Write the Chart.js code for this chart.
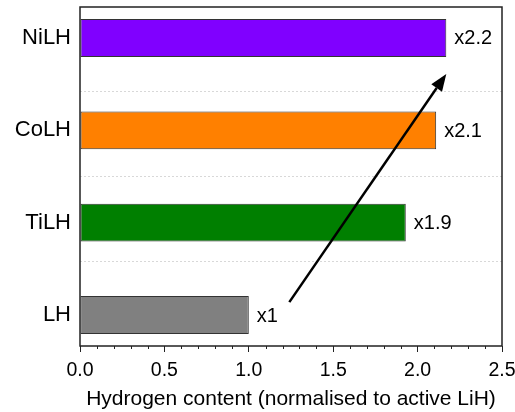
<!DOCTYPE html>
<html>
<head>
<meta charset="utf-8">
<script src="https://cdn.jsdelivr.net/npm/chart.js@4/dist/chart.umd.min.js"></script>
<style>
  html, body { margin: 0; padding: 0; background: #fff; }
  #wrap { width: 515px; height: 412px; }
</style>
</head>
<body>
<div id="wrap"><canvas id="chart"></canvas></div>
<script>
const categories = ["LH", "TiLH", "CoLH", "NiLH"];
const hydrogenContent = [1.0, 1.93, 2.11, 2.17];
const ratioLabels = ["x1", "x1.9", "x2.1", "x2.2"];
const barColors = ["#808080", "#007f00", "#ff8000", "#8000ff"];
const xTicks = [0, 0.5, 1.0, 1.5, 2.0, 2.5];
const arrowFrom = { x: 1.24, y: 0.14 };
const arrowTo = { x: 2.17, y: 2.61 };

const font = "'Liberation Sans', Arial, sans-serif";

// Chart.js adds room for overhanging labels; the reference plot box is fixed
const noPad = (scale) => {
  scale.paddingLeft = 0;
  scale.paddingRight = 0;
  scale.paddingTop = 0;
  scale.paddingBottom = 0;
};

const extras = {
  id: "extras",
  afterDatasetsDraw(chart) {
    const ctx = chart.ctx;
    const xs = chart.scales.x;
    const ys = chart.scales.y;
    const area = chart.chartArea;
    ctx.save();

    // value labels next to bars
    ctx.fillStyle = "#000";
    ctx.font = "20px " + font;
    ctx.textBaseline = "middle";
    ctx.textAlign = "left";
    hydrogenContent.forEach((v, i) => {
      ctx.fillText(ratioLabels[i], xs.getPixelForValue(v) + 8, ys.getPixelForValue(i) + 1);
    });

    // arrow
    const x0 = xs.getPixelForValue(arrowFrom.x), y0 = ys.getPixelForValue(arrowFrom.y);
    const x1 = xs.getPixelForValue(arrowTo.x), y1 = ys.getPixelForValue(arrowTo.y);
    const ang = Math.atan2(y1 - y0, x1 - x0);
    const head = 17, hw = 6.5;
    const bx = x1 - head * Math.cos(ang), by = y1 - head * Math.sin(ang);
    ctx.strokeStyle = "#000";
    ctx.lineWidth = 2.5;
    ctx.beginPath();
    ctx.moveTo(x0, y0);
    ctx.lineTo(bx, by);
    ctx.stroke();
    ctx.beginPath();
    ctx.moveTo(x1, y1);
    ctx.lineTo(bx + hw * Math.sin(ang), by - hw * Math.cos(ang));
    ctx.lineTo(bx - hw * Math.sin(ang), by + hw * Math.cos(ang));
    ctx.closePath();
    ctx.fillStyle = "#000";
    ctx.fill();

    // frame
    ctx.strokeStyle = "#222";
    ctx.lineWidth = 1.5;
    ctx.strokeRect(area.left, area.top, area.right - area.left, area.bottom - area.top);

    // minor ticks
    ctx.lineWidth = 1;
    for (let k = 1; k < 25; k++) {
      if (k % 5 === 0) continue;
      const px = Math.round(xs.getPixelForValue(k / 10)) + 0.5;
      ctx.beginPath();
      ctx.moveTo(px, area.bottom);
      ctx.lineTo(px, area.bottom + 3);
      ctx.stroke();
    }
    ctx.restore();
  }
};

const ctx = document.getElementById("chart").getContext("2d");
new Chart(ctx, {
  type: "bar",
  data: {
    datasets: [
      {
        data: hydrogenContent.map((v, i) => ({ x: v, y: i })),
        backgroundColor: barColors,
        borderColor: "#333",
        borderWidth: 1,
        borderSkipped: false,
        barPercentage: 0.41,
        categoryPercentage: 1.0,
      },
    ],
  },
  options: {
    indexAxis: "y",
    responsive: true,
    maintainAspectRatio: false,
    animation: false,
    layout: { padding: { top: 7, right: 13, left: 0, bottom: 0 } },
    plugins: {
      legend: { display: false },
      tooltip: { enabled: false },
    },
    scales: {
      x: {
        type: "linear",
        min: 0,
        max: 2.5,
        offset: false,
        afterBuildTicks: (scale) => {
          scale.ticks = xTicks.map((v) => ({ value: v }));
        },
        afterFit: (scale) => {
          scale.height = 66;
          noPad(scale);
        },
        ticks: {
          color: "#000",
          font: { family: font, size: 19.5 },
          padding: 7,
          maxRotation: 0,
          callback: (v) => v.toFixed(1),
        },
        grid: {
          drawOnChartArea: false,
          tickLength: 6,
          tickColor: "#222",
          tickWidth: 1,
        },
        border: { display: false },
        title: {
          display: true,
          text: "Hydrogen content (normalised to active LiH)",
          color: "#000",
          font: { family: font, size: 21 },
          padding: { top: 4, bottom: 0 },
        },
      },
      y: {
        type: "linear",
        min: -0.335,
        max: 3.335,
        offset: false,
        afterBuildTicks: (scale) => {
          scale.ticks = categories.map((c, i) => ({ value: i }));
        },
        afterFit: (scale) => {
          scale.width = 80;
          noPad(scale);
        },
        ticks: {
          color: "#000",
          font: { family: font, size: 22 },
          padding: 9,
          callback: (v) => categories[v],
        },
        grid: { display: false, offset: false, drawTicks: false, tickLength: 0 },
        border: { display: false },
      },
      y2: {
        type: "linear",
        position: "right",
        min: 0,
        max: 4,
        offset: false,
        afterBuildTicks: (scale) => {
          scale.ticks = [1, 2, 3].map((v) => ({ value: v }));
        },
        afterFit: (scale) => {
          scale.width = 0;
          noPad(scale);
        },
        ticks: { display: false },
        grid: {
          offset: false,
          color: "#d8d8d8",
          lineWidth: 1,
          drawTicks: false,
        },
        border: { display: false, dash: [2, 2] },
      },
    },
  },
  plugins: [extras],
});
</script>
</body>
</html>
